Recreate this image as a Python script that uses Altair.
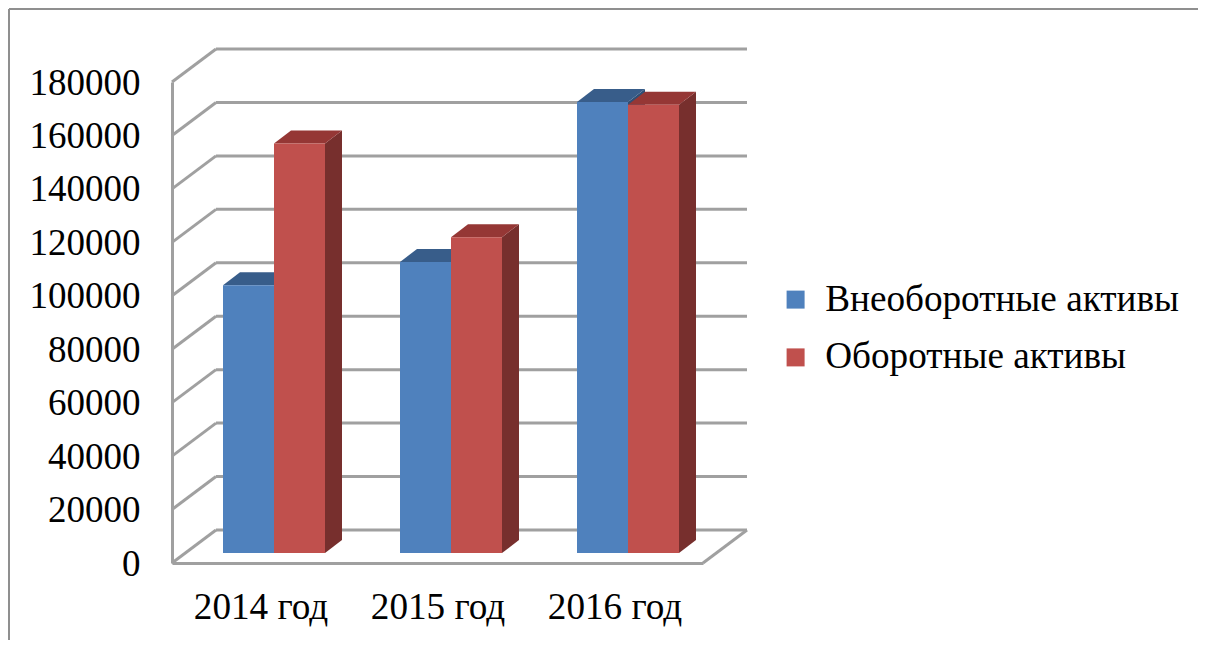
import altair as alt
import pandas as pd

years = ["2014 год", "2015 год", "2016 год"]
series = ["Внеоборотные активы", "Оборотные активы"]
noncurrent = [100200, 108900, 168800]
current = [153200, 118200, 167700]
ticks = [0, 20000, 40000, 60000, 80000, 100000, 120000, 140000, 160000, 180000]
front_colors = ["#4f81bd", "#c0504d"]
top_colors = ["#385d8a", "#953735"]
side_colors = ["#2f4f75", "#772f2d"]
grid_color = "#a0a0a0"
frame_color = "#8f8f8f"
font = "Liberation Serif"

# 3-D projection settings, in scale units
PLOT_W, PLOT_H = 531, 481
WALL_DX = 44 / 177
WALL_DY = 33 * 180000 / PLOT_H
BAR_W = 51 / 177
BAR_DX = 17 / 177
BAR_DY = 13 * 180000 / PLOT_H
BASE = 10 * 180000 / PLOT_H
SHIFT = 13.5 / 177

x_scale = alt.Scale(domain=[0, 3], nice=False, zero=False)
y_scale = alt.Scale(domain=[0, 180000], nice=False, zero=False)


def X(f, **k):
    return alt.X(f, type="quantitative", scale=x_scale, title=None, **k)


def Y(f, **k):
    return alt.Y(f, type="quantitative", scale=y_scale, title=None, stack=None, **k)


# bars
rows = []
for s, vals in enumerate([noncurrent, current]):
    for i, v in enumerate(vals):
        left = i + 0.5 + SHIFT - BAR_W + s * BAR_W
        rows.append(dict(series=series[s], s=s, i=i, value=v, left=left, right=left + BAR_W,
                         base=BASE, top=BASE + v))
bars = pd.DataFrame(rows)

side_rows, top_rows = [], []
for r in rows:
    side_rows += [
        dict(s=r["s"], key=r["i"], x=r["right"], y=r["base"], y2=r["top"]),
        dict(s=r["s"], key=r["i"], x=r["right"] + BAR_DX, y=r["base"] + BAR_DY, y2=r["top"] + BAR_DY),
    ]
    top_rows += [
        dict(s=r["s"], key=r["i"], y=r["top"], x=r["left"], x2=r["right"]),
        dict(s=r["s"], key=r["i"], y=r["top"] + BAR_DY, x=r["left"] + BAR_DX, x2=r["right"] + BAR_DX),
    ]
sides = pd.DataFrame(side_rows)
tops = pd.DataFrame(top_rows)

# walls
back = pd.DataFrame([dict(x=WALL_DX, x2=3 + WALL_DX, y=t + WALL_DY, y2=t + WALL_DY) for t in ticks])
left_wall = pd.DataFrame([dict(x=0, x2=WALL_DX, y=t, y2=t + WALL_DY) for t in ticks])
floor_edge = pd.DataFrame([dict(x=3, x2=3 + WALL_DX, y=0, y2=WALL_DY)])


def wall(df):
    return alt.Chart(df).mark_rule(color=grid_color, strokeWidth=3).encode(
        x=X("x"), x2="x2", y=Y("y"), y2="y2"
    )


axes = alt.Chart(pd.DataFrame(dict(x=[0.5, 1.5, 2.5], y=[0, 0, 0]))).mark_point(opacity=0).encode(
    x=X("x", axis=alt.Axis(
        values=[0.5, 1.5, 2.5],
        labelExpr="['" + "','".join(years) + "'][floor(datum.value)]",
        ticks=False, grid=False, domainColor=grid_color, domainWidth=3,
        labelFont=font, labelFontSize=37.2, labelColor="#000000", labelPadding=26,
        labelBaseline="top",
    )),
    y=Y("y", axis=alt.Axis(
        values=ticks, ticks=False, grid=False, domainColor=grid_color, domainWidth=3,
        labelFont=font, labelFontSize=37, labelColor="#000000", labelPadding=32,
        labelOffset=1, format="d",
    )),
)

layers = [wall(back), wall(left_wall), wall(floor_edge), axes]
for s in range(2):
    layers.append(alt.Chart(sides[sides.s == s]).mark_area(color=side_colors[s]).encode(
        x=X("x"), y=Y("y"), y2="y2", detail="key:N"))
    layers.append(alt.Chart(tops[tops.s == s]).mark_area(color=top_colors[s], orient="horizontal").encode(
        y=Y("y"), x=X("x"), x2="x2", detail="key:N"))
    layers.append(alt.Chart(bars[bars.s == s]).mark_rect().encode(
        x=X("left"), x2="right", y=Y("base"), y2="top",
        color=alt.Color("series:N", scale=alt.Scale(domain=series, range=front_colors),
                        legend=alt.Legend(
                            title=None, orient="none", legendX=605, legendY=199,
                            symbolType="square", symbolSize=324, symbolStrokeWidth=0,
                            labelFont=font, labelFontSize=37.2, labelColor="#000000",
                            labelLimit=500, rowPadding=19.8, labelOffset=11, columnPadding=0,
                        ))))

# picture frame along the top and left edge of the canvas
frame_top = alt.Chart(pd.DataFrame(dict(a=[0]))).mark_rule(color=frame_color, strokeWidth=2).encode(
    x=alt.value(-163), x2=alt.value(1026), y=alt.value(-73), y2=alt.value(-73))
frame_left = alt.Chart(pd.DataFrame(dict(a=[0]))).mark_rule(color=frame_color, strokeWidth=2).encode(
    x=alt.value(-163), x2=alt.value(-163), y=alt.value(-73), y2=alt.value(558))
layers += [frame_top, frame_left]

chart = alt.layer(*layers).properties(
    width=PLOT_W, height=PLOT_H,
    padding={"left": 164, "top": 74, "right": 495, "bottom": 77},
    autosize=alt.AutoSizeParams(type="none"),
).configure_view(stroke=None)

chart.save("out.html", embed_options={"renderer": "svg", "actions": False})
